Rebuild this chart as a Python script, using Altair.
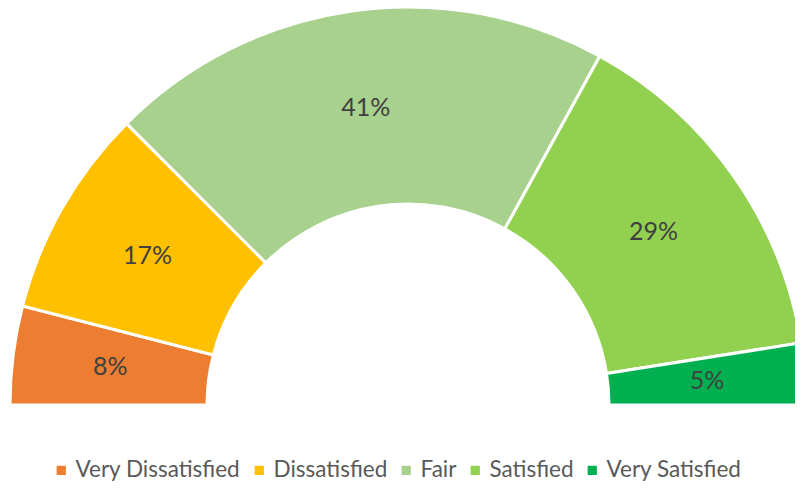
import math
import altair as alt
import pandas as pd

categories = ["Very Dissatisfied", "Dissatisfied", "Fair", "Satisfied", "Very Satisfied"]
values = [8, 17, 41, 29, 5]
labels = ["8%", "17%", "41%", "29%", "5%"]
colors = ["#ED7D31", "#FFC000", "#A9D18E", "#92D050", "#00B050"]

df = pd.DataFrame({
    "category": categories,
    "value": values,
    "label": labels,
    "order": list(range(len(categories))),
})

FONT = "Lato"
CX, CY = 400, 397

theta = alt.Theta("value:Q", stack=True,
                  scale=alt.Scale(range=[3 * math.pi / 2, 5 * math.pi / 2]))
order = alt.Order("order:Q", sort="ascending")

arcs = alt.Chart(df).mark_arc(
    radius=398, radius2=201, stroke="white", strokeWidth=3
).encode(
    theta=theta,
    order=order,
    x=alt.value(CX),
    y=alt.value(CY),
    color=alt.Color(
        "category:N",
        scale=alt.Scale(domain=categories, range=colors),
        sort=categories,
        legend=alt.Legend(
            title=None,
            orient="none",
            direction="horizontal",
            legendX=42,
            legendY=451,
            symbolType="square",
            symbolSize=85,
            symbolStrokeWidth=0,
            labelFont=FONT,
            labelFontSize=22.5,
            labelColor="#595959",
            labelOffset=3,
            columnPadding=7,
            labelLimit=400,
        ),
    ),
)

texts = alt.Chart(df).mark_text(
    radius=300, font=FONT, fontSize=25, color="#404040",
    align="center", baseline="middle"
).encode(
    theta=theta,
    order=order,
    x=alt.value(CX),
    y=alt.value(CY),
    text="label:N",
)

chart = alt.layer(arcs, texts).properties(
    width=787, height=474, padding=0,
    autosize=alt.AutoSizeParams(type="none"),
).configure_view(stroke=None)

chart.save("out.html", embed_options={"renderer": "svg", "actions": False})
